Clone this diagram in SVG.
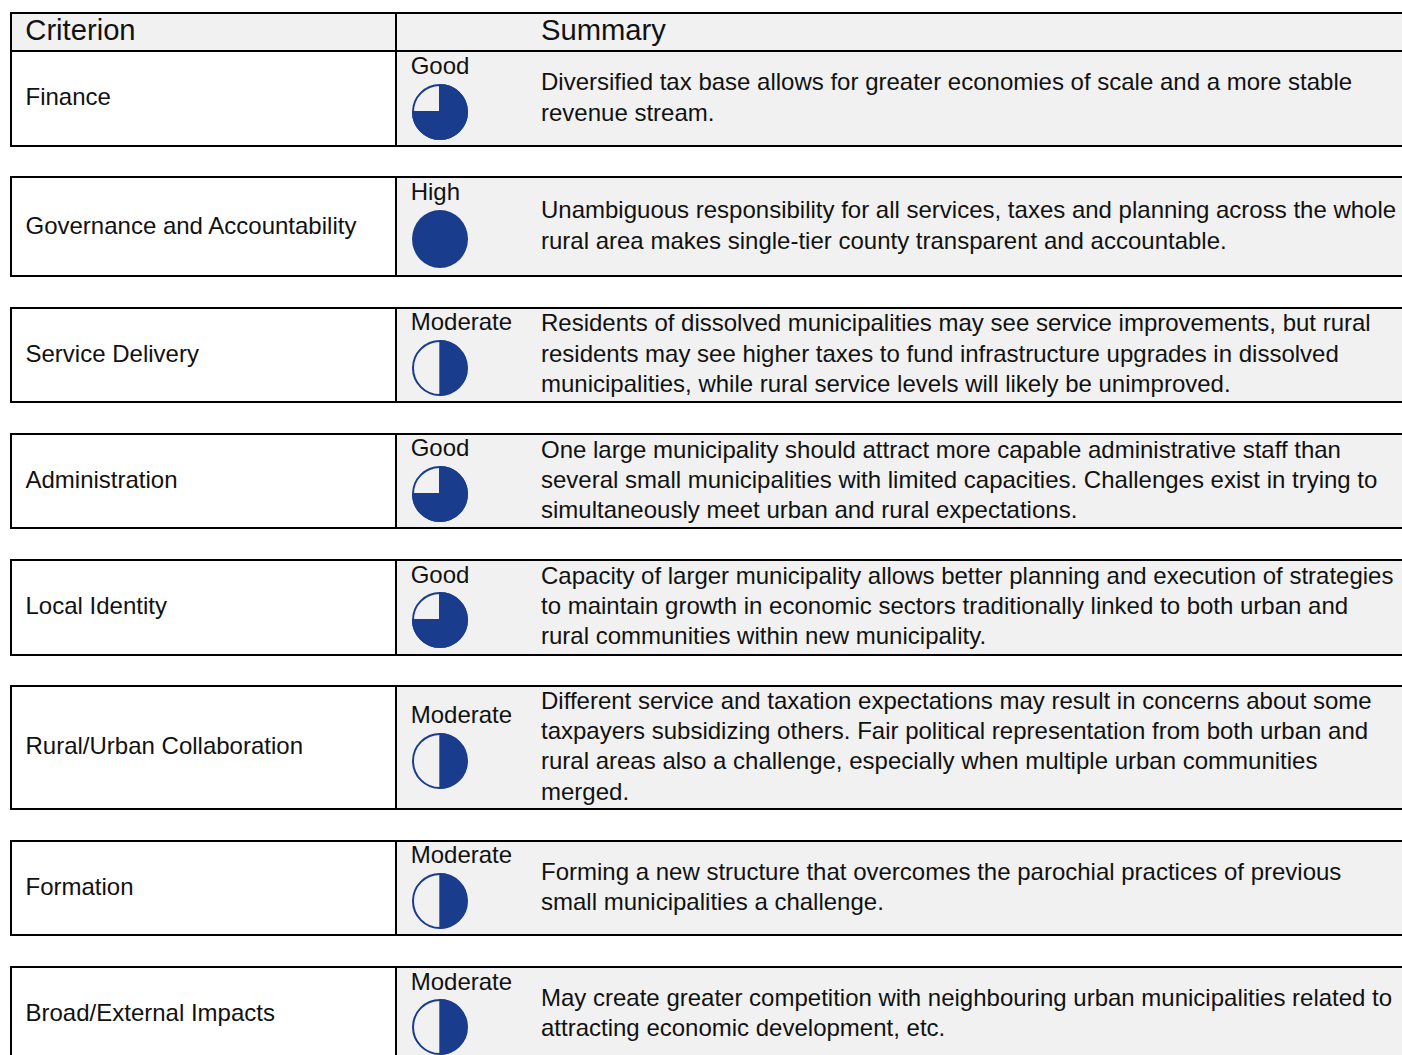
<svg xmlns="http://www.w3.org/2000/svg" width="1402" height="1055" viewBox="0 0 1402 1055">
<style>
text{font-family:"Liberation Sans",Arial,sans-serif;fill:#111;font-size:24px}
.h{font-size:29.2px}
.bg{fill:#f1f1f1;stroke:none}
.ln{stroke:#000;stroke-width:2;fill:none}
.d{fill:#1a3c8c}
.o{fill:#f1f1f1;stroke:#1a3c8c;stroke-width:2}
</style>
<defs>
<g id="good"><circle r="27" class="o"/><path class="d" d="M-1-28A28 28 0 1 1-28-1H-1Z"/></g>
<g id="mod"><circle r="27" class="o"/><path class="d" d="M-.7-28A28 28 0 1 1-.7 28Z"/></g>
</defs>
<g id="header">
<rect class="bg" x="11" y="13" width="1391" height="38"/>
<path class="ln" d="M1402 13H11V51H1402M396 13V51"/>
<text class="h" x="25.3" y="40">Criterion</text>
<text class="h" x="541" y="40">Summary</text>
</g>
<g id="row-finance">
<rect class="bg" x="396" y="51" width="1006" height="95"/>
<path class="ln" d="M1402 51H11V146H1402M396 51V146"/>
<text x="25.5" y="105">Finance</text>
<text x="410.7" y="74">Good</text>
<use href="#good" x="440" y="112"/>
<text x="541" y="90">Diversified tax base allows for greater economies of scale and a more stable</text>
<text x="541" y="121">revenue stream.</text>
</g>
<g id="row-governance">
<rect class="bg" x="396" y="177" width="1006" height="99"/>
<path class="ln" d="M1402 177H11V276H1402M396 177V276"/>
<text x="25.5" y="234">Governance and Accountability</text>
<text x="410.7" y="200">High</text>
<ellipse class="d" cx="440" cy="239" rx="28" ry="29"/>
<text x="541" y="218">Unambiguous responsibility for all services, taxes and planning across the whole</text>
<text x="541" y="249">rural area makes single-tier county transparent and accountable.</text>
</g>
<g id="row-service">
<rect class="bg" x="396" y="308" width="1006" height="94"/>
<path class="ln" d="M1402 308H11V402H1402M396 308V402"/>
<text x="25.5" y="361.5">Service Delivery</text>
<text x="410.7" y="330">Moderate</text>
<use href="#mod" x="440" y="368"/>
<text x="541" y="331">Residents of dissolved municipalities may see service improvements, but rural</text>
<text x="541" y="362">residents may see higher taxes to fund infrastructure upgrades in dissolved</text>
<text x="541" y="392">municipalities, while rural service levels will likely be unimproved.</text>
</g>
<g id="row-administration">
<rect class="bg" x="396" y="434" width="1006" height="94"/>
<path class="ln" d="M1402 434H11V528H1402M396 434V528"/>
<text x="25.5" y="488">Administration</text>
<text x="410.7" y="456">Good</text>
<use href="#good" x="440" y="494"/>
<text x="541" y="458">One large municipality should attract more capable administrative staff than</text>
<text x="541" y="488">several small municipalities with limited capacities. Challenges exist in trying to</text>
<text x="541" y="518">simultaneously meet urban and rural expectations.</text>
</g>
<g id="row-identity">
<rect class="bg" x="396" y="560" width="1006" height="95"/>
<path class="ln" d="M1402 560H11V655H1402M396 560V655"/>
<text x="25.5" y="613.5">Local Identity</text>
<text x="410.7" y="583">Good</text>
<use href="#good" x="440" y="620"/>
<text x="541" y="584">Capacity of larger municipality allows better planning and execution of strategies</text>
<text x="541" y="614.4">to maintain growth in economic sectors traditionally linked to both urban and</text>
<text x="541" y="644.4">rural communities within new municipality.</text>
</g>
<g id="row-collaboration">
<rect class="bg" x="396" y="686" width="1006" height="123"/>
<path class="ln" d="M1402 686H11V809H1402M396 686V809"/>
<text x="25.5" y="753.5">Rural/Urban Collaboration</text>
<text x="410.7" y="723">Moderate</text>
<use href="#mod" x="440" y="761"/>
<text x="541" y="709">Different service and taxation expectations may result in concerns about some</text>
<text x="541" y="739">taxpayers subsidizing others. Fair political representation from both urban and</text>
<text x="541" y="769">rural areas also a challenge, especially when multiple urban communities</text>
<text x="541" y="800">merged.</text>
</g>
<g id="row-formation">
<rect class="bg" x="396" y="841" width="1006" height="94"/>
<path class="ln" d="M1402 841H11V935H1402M396 841V935"/>
<text x="25.5" y="894.5">Formation</text>
<text x="410.7" y="863">Moderate</text>
<use href="#mod" x="440" y="901"/>
<text x="541" y="880">Forming a new structure that overcomes the parochial practices of previous</text>
<text x="541" y="910">small municipalities a challenge.</text>
</g>
<g id="row-impacts">
<rect class="bg" x="396" y="967" width="1006" height="88"/>
<path class="ln" d="M1402 967H11V1056M396 967V1056"/>
<text x="25.5" y="1021">Broad/External Impacts</text>
<text x="410.7" y="990">Moderate</text>
<use href="#mod" x="440" y="1027"/>
<text x="541" y="1006">May create greater competition with neighbouring urban municipalities related to</text>
<text x="541" y="1036">attracting economic development, etc.</text>
</g>
<g id="connectors"/>
</svg>
